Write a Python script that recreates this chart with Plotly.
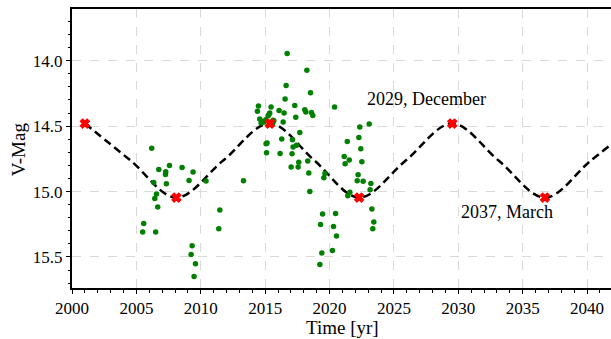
import plotly.graph_objects as go

# Observations (year, V magnitude)
obs_year = [
    2005.49, 2005.57, 2006.19, 2006.35, 2006.43, 2006.50, 2006.56, 2006.66, 2006.74,
    2007.28, 2007.26, 2007.33, 2007.57, 2008.55, 2009.09, 2009.40, 2009.25, 2009.33,
    2009.48, 2009.59, 2010.41, 2011.40, 2011.48, 2013.32,
    2014.40, 2014.48, 2014.58, 2014.69, 2014.76, 2014.90, 2015.05, 2015.07, 2015.11,
    2015.15, 2015.23, 2015.28, 2015.31, 2015.36, 2015.46, 2015.57, 2015.62, 2015.67,
    2016.08, 2016.16, 2016.29, 2016.40, 2016.47, 2016.55, 2016.63, 2016.71, 2017.02,
    2017.09, 2017.12, 2017.17, 2017.30, 2017.38, 2017.44, 2017.56, 2017.61, 2017.69,
    2018.08, 2018.16, 2018.24, 2018.31, 2018.39, 2018.47, 2018.52, 2018.60, 2018.70,
    2019.25, 2019.30, 2019.40, 2019.46, 2019.56, 2019.64, 2020.23, 2020.31, 2020.39,
    2020.47, 2020.54, 2021.14, 2021.21, 2021.38, 2021.42, 2021.53, 2021.58, 2022.15,
    2022.22, 2022.28, 2022.35, 2022.43, 2022.51, 2022.61, 2023.08, 2023.15, 2023.21,
    2023.29, 2023.36, 2023.44,
]
obs_mag = [
    15.310, 15.244, 14.670, 14.930, 15.053, 15.310, 15.019, 15.118, 14.831,
    14.849, 14.869, 14.940, 14.800, 14.816, 14.915, 14.851, 15.481, 15.414,
    15.649, 15.552, 14.920, 15.284, 15.141, 14.917,
    14.387, 14.346, 14.446, 14.476, 14.464, 14.469, 14.451, 14.635, 14.703,
    14.629, 14.420, 14.413, 14.469, 14.400, 14.354, 14.482, 14.456, 14.459,
    14.380, 14.709, 14.599, 14.469, 14.400, 14.293, 14.189, 13.946, 14.813,
    14.711, 14.604, 14.660, 14.342, 14.433, 14.647, 14.813, 14.777, 14.548,
    14.375, 14.392, 14.074, 14.767, 14.859, 14.999, 14.245, 14.395, 14.418,
    15.557, 15.251, 15.470, 15.172, 14.895, 14.862, 15.450, 15.267, 14.354,
    15.167, 15.340, 14.732, 14.787, 14.617, 15.032, 14.759, 15.006, 14.917,
    14.872, 14.586, 14.507, 14.673, 14.772, 14.922, 14.484, 14.986, 14.938,
    15.134, 15.284, 15.233,
]

# Model light curve at its extremes and mid-level crossings
model_year = [2001.0, 2004.55, 2008.11, 2011.74, 2015.36, 2018.83, 2022.30,
              2025.92, 2029.53, 2033.13, 2036.73, 2040.30, 2043.90]
model_mag = [14.48, 14.763, 15.046, 14.763, 14.48, 14.763, 15.046,
             14.763, 14.48, 14.763, 15.046, 14.763, 14.48]

# Extrema (red markers)
ext_year = [2001.0, 2008.11, 2015.36, 2022.30, 2029.53, 2036.73]
ext_mag = [14.48, 15.046, 14.48, 15.046, 14.48, 15.046]

labels = ["2029, December", "2037, March"]
label_x = [2027.54, 2033.75]
label_y = [14.29, 15.157]

FONT = "Liberation Serif"

fig = go.Figure()
fig.add_trace(go.Scatter(x=model_year, y=model_mag, mode="lines",
                         line=dict(color="black", width=2.5, dash="8px,4.5px",
                                   shape="spline", smoothing=1.0),
                         hoverinfo="skip", showlegend=False))
fig.add_trace(go.Scatter(x=obs_year, y=obs_mag, mode="markers",
                         marker=dict(color="green", size=5.5),
                         showlegend=False))
fig.add_trace(go.Scatter(x=ext_year, y=ext_mag, mode="markers",
                         marker=dict(color="red", size=8, symbol="x",
                                     line=dict(width=1.2, color="red")),
                         showlegend=False))

for t, x, y in zip(labels, label_x, label_y):
    fig.add_annotation(x=x, y=y, text=t, showarrow=False,
                       font=dict(family=FONT, size=18, color="black"),
                       xanchor="center", yanchor="middle")

fig.add_annotation(xref="paper", yref="paper", x=0.502, y=-0.14,
                   text="Time [yr]", showarrow=False,
                   font=dict(family=FONT, size=19, color="black"),
                   xanchor="center", yanchor="middle")
fig.add_annotation(xref="paper", yref="paper", x=-0.099, y=0.496,
                   text="V-Mag", showarrow=False, textangle=-90,
                   font=dict(family=FONT, size=19, color="black"),
                   xanchor="center", yanchor="middle")

fig.update_layout(
    template="none",
    width=611, height=339,
    margin=dict(l=72, r=0, t=9, b=51),
    paper_bgcolor="white", plot_bgcolor="white",
    font=dict(family=FONT, size=17, color="black"),
)
axis_common = dict(
    showline=True, linecolor="black", linewidth=2,
    ticks="outside", ticklen=4, tickwidth=1.2, tickcolor="black",
    showgrid=True, gridcolor="#d9d9d9", griddash="dash", gridwidth=1,
    zeroline=False,
    tickfont=dict(family=FONT, size=17, color="black"),
)
fig.update_xaxes(
    range=[2000, 2041.86], tickmode="linear", dtick=5, tick0=2000, mirror=True,
    minor=dict(dtick=1, ticks="outside", ticklen=2.5, tickwidth=1, tickcolor="black", showgrid=False),
    **axis_common,
)
fig.update_yaxes(
    range=[15.737, 13.605], tickmode="linear", dtick=0.5, tick0=14.0, tickformat=".1f", mirror=False,
    minor=dict(dtick=0.1, ticks="outside", ticklen=2.5, tickwidth=1, tickcolor="black", showgrid=False),
    **axis_common,
)

fig.write_html("out.html")
